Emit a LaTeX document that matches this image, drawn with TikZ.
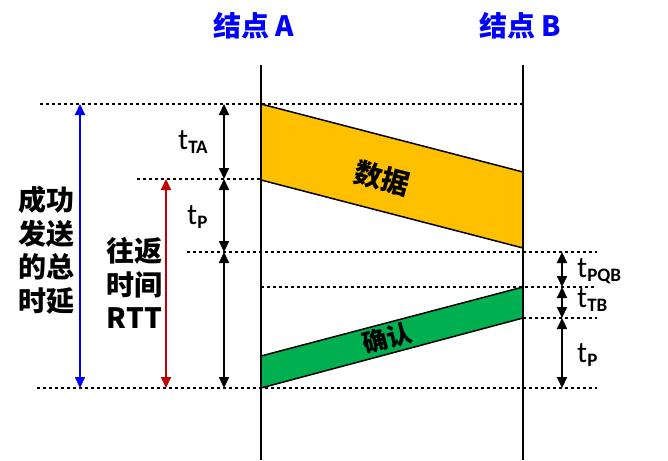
\documentclass[tikz,border=0pt]{standalone}
\usepackage{fontspec}
\setmainfont{Carlito}
\newfontfamily\cjk{Noto Sans CJK SC}
\usetikzlibrary{arrows.meta}
\definecolor{dataY}{RGB}{255,192,0}
\definecolor{ackG}{RGB}{0,176,80}
\definecolor{rttR}{RGB}{192,0,0}
\definecolor{nodeB}{RGB}{0,0,255}
\newcommand\tlab[1]{t\raisebox{-4pt}{\fontsize{19}{19}\selectfont\bfseries #1}}
\begin{document}
\begin{tikzpicture}[x=1pt,y=-1pt,
  lifeline/.style={line width=2.8pt},
  dots/.style={line width=2.2pt, dash pattern=on 2.5pt off 3.5pt},
  dimarrow/.style={line width=2pt,{Triangle[length=11pt,width=10pt]}-{Triangle[length=11pt,width=10pt]}},
  cn/.style={font=\cjk\bfseries\fontsize{28}{33.5}\selectfont, align=center, inner sep=0pt},
  tl/.style={font=\fontsize{30}{32}\selectfont, inner sep=0pt, anchor=base west},
  band/.style={draw=black, line width=1.5pt}]
\useasboundingbox (0,0) rectangle (668,460);
% lifelines
\coordinate (Atop) at (261,65);
\coordinate (Abot) at (261,460);
\coordinate (Btop) at (523,65);
\coordinate (Bbot) at (523,460);
% bands
\filldraw[band, fill=dataY] (261,104) coordinate (d1) -- (523,172) coordinate (d2) -- (523,248) coordinate (d3) -- (261,180) coordinate (d4) -- cycle;
\filldraw[band, fill=ackG] (261,356) coordinate (g1) -- (523,287) coordinate (g2) -- (523,318) coordinate (g3) -- (261,388) coordinate (g4) -- cycle;
\draw[lifeline] (Atop) -- (Abot);
\draw[lifeline] (Btop) -- (Bbot);
% dotted lines
\coordinate (l1a) at (40,104); \coordinate (l1b) at (523,104);
\coordinate (l2a) at (137,179); \coordinate (l2b) at (261,179);
\coordinate (l3a) at (187,252); \coordinate (l3b) at (597,252);
\coordinate (l4a) at (261,287); \coordinate (l4b) at (597,287);
\coordinate (l5a) at (523,318); \coordinate (l5b) at (597,318);
\coordinate (l6a) at (37,388); \coordinate (l6b) at (597,388);
\draw[dots] (l1a) -- (l1b);
\draw[dots] (l2a) -- (l2b);
\draw[dots] (l3a) -- (l3b);
\draw[dots] (l4a) -- (l4b);
\draw[dots] (l5a) -- (l5b);
\draw[dots] (l6a) -- (l6b);
% dimension arrows
\coordinate (k1) at (224,104); \coordinate (k2) at (224,179);
\coordinate (k3) at (224,252); \coordinate (k4) at (224,388);
\draw[dimarrow] (k1) -- (k2);
\draw[dimarrow] (k2) -- (k3);
\draw[dimarrow] (k3) -- (k4);
\coordinate (r1) at (562,252); \coordinate (r2) at (562,287);
\coordinate (r3) at (562,318); \coordinate (r4) at (562,388);
\draw[dimarrow] (r1) -- (r2);
\draw[dimarrow] (r2) -- (r3);
\draw[dimarrow] (r3) -- (r4);
\coordinate (b1) at (80,104); \coordinate (b2) at (80,388);
\draw[dimarrow, blue] (b1) -- (b2);
\coordinate (c1) at (166,179); \coordinate (c2) at (166,388);
\draw[dimarrow, rttR] (c1) -- (c2);
% labels
\node[cn, text=nodeB] (na) at (253.5,26) {结点 A};
\node[cn, text=nodeB] (nb) at (520.5,26) {结点 B};
\node[cn] (total) at (46.5,250) {成功\\发送\\的总\\时延};
\node[cn] (rtt) at (134.5,283) {往返\\时间\\RTT};
\node[cn, rotate=-14.6] (data) at (382,178) {数据};
\node[cn, font=\cjk\bfseries\fontsize{25}{28}\selectfont, rotate=14.8] (ack) at (387,338) {确认};
\node[tl] (tta) at (178,149) {\tlab{TA}};
\node[tl] (tp1) at (187,224) {\tlab{P}};
\node[tl] (tpqb) at (577,277) {\tlab{PQB}};
\node[tl] (ttb) at (577,307) {\tlab{TB}};
\node[tl] (tp2) at (577,362) {\tlab{P}};
\end{tikzpicture}
\end{document}
